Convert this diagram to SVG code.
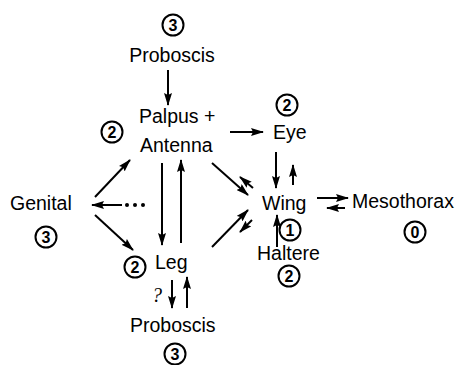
<svg xmlns="http://www.w3.org/2000/svg" width="458" height="365" viewBox="0 0 458 365">
<style>
.t{font-family:"Liberation Sans",Arial,sans-serif;font-size:19.5px;fill:#000}
.n{font-family:"Liberation Sans",Arial,sans-serif;font-size:16px;font-weight:bold;fill:#000;text-anchor:middle}
.c{fill:none;stroke:#000;stroke-width:2}
.a{stroke:#000;stroke-width:2;fill:none;marker-end:url(#ah)}
</style>
<defs>
<marker id="ah" markerUnits="userSpaceOnUse" markerWidth="13" markerHeight="8" refX="12" refY="4" orient="auto">
<path d="M0,0 L13,4 L0,8 L2,4 Z" fill="#000"/>
</marker>
</defs>
<rect width="458" height="365" fill="#fff"/>
<g id="proboscis-top">
<circle class="c" cx="173" cy="25" r="10.5"/><text class="n" x="173" y="31">3</text>
<text class="t" x="172" y="62" text-anchor="middle">Proboscis</text>
</g>
<g id="palpus-antenna">
<circle class="c" cx="112" cy="132" r="10.5"/><text class="n" x="112" y="138">2</text>
<text class="t" x="139" y="123">Palpus +</text>
<text class="t" x="140" y="152">Antenna</text>
</g>
<g id="eye">
<circle class="c" cx="287" cy="105" r="10.5"/><text class="n" x="287" y="111">2</text>
<text class="t" x="273" y="139">Eye</text>
</g>
<g id="wing">
<text class="t" x="262" y="210">Wing</text>
<circle class="c" cx="290" cy="230" r="10.5"/><text class="n" x="290" y="236">1</text>
</g>
<g id="mesothorax">
<text class="t" x="352" y="208">Mesothorax</text>
<circle class="c" cx="415" cy="232" r="10.5"/><text class="n" x="415" y="238">0</text>
</g>
<g id="haltere">
<text class="t" x="257" y="260">Haltere</text>
<circle class="c" cx="289" cy="276" r="10.5"/><text class="n" x="289" y="282">2</text>
</g>
<g id="genital">
<text class="t" x="10" y="210">Genital</text>
<circle class="c" cx="46" cy="237" r="10.5"/><text class="n" x="46" y="243">3</text>
</g>
<g id="leg">
<circle class="c" cx="135" cy="267" r="10.5"/><text class="n" x="135" y="273">2</text>
<text class="t" x="155" y="269">Leg</text>
</g>
<g id="proboscis-bottom">
<text class="t" x="130" y="332">Proboscis</text>
<circle class="c" cx="175" cy="354" r="10.5"/><text class="n" x="175" y="360">3</text>
</g>
<g id="connectors">
<line class="a" x1="168" y1="70" x2="168" y2="105"/>
<line class="a" x1="230" y1="132" x2="263" y2="132"/>
<line class="a" x1="276" y1="152" x2="276" y2="188"/>
<line class="a" x1="293" y1="185" x2="293" y2="165"/>
<line class="a" x1="212" y1="163" x2="248" y2="195"/>
<line class="a" x1="253" y1="188" x2="240" y2="177"/>
<line class="a" x1="212" y1="247" x2="248" y2="210"/>
<line class="a" x1="252" y1="220" x2="240" y2="232"/>
<line class="a" x1="317" y1="198" x2="348" y2="198"/>
<line class="a" x1="345" y1="208" x2="327" y2="208"/>
<line class="a" x1="277" y1="247" x2="277" y2="215"/>
<line class="a" x1="95" y1="197" x2="130" y2="160"/>
<line class="a" x1="122" y1="205" x2="92" y2="205"/>
<circle cx="127" cy="205" r="2"/><circle cx="135" cy="205" r="2"/><circle cx="143" cy="205" r="2"/>
<line class="a" x1="95" y1="215" x2="133" y2="250"/>
<line class="a" x1="162" y1="163" x2="162" y2="245"/>
<line class="a" x1="181" y1="243" x2="181" y2="160"/>
<line class="a" x1="172" y1="280" x2="172" y2="308"/>
<line class="a" x1="187" y1="308" x2="187" y2="277"/>
<text x="157" y="302" text-anchor="middle" fill="#000" style="font-family:'Liberation Serif',serif;font-style:italic;font-size:20px">?</text>
</g>
</svg>
